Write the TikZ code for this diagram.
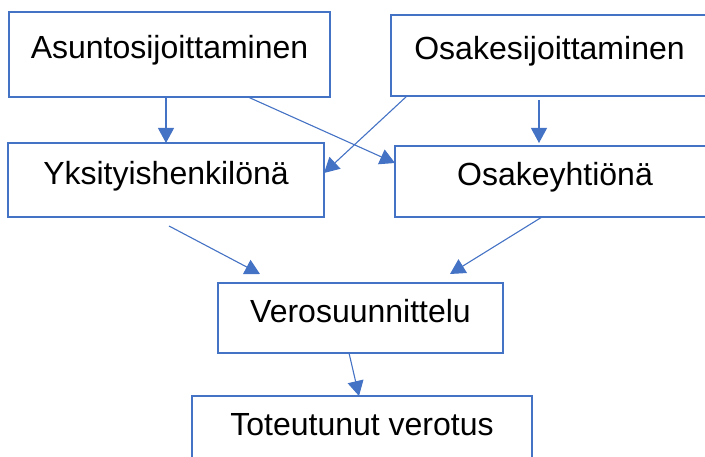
\documentclass[tikz,border=0pt]{standalone}
\usepackage{fontspec}
\setmainfont{Liberation Sans}
\usepackage{tikz}
\usetikzlibrary{arrows.meta, positioning, calc}
\definecolor{boxblue}{HTML}{4472C4}

\begin{document}
\begin{tikzpicture}[
    x=1pt, y=1pt,
    box/.style={draw=boxblue, line width=2.5pt, rectangle, inner sep=0pt, outer sep=0pt, align=center, text height=24pt, text depth=15pt, font=\fontsize{32}{38}\selectfont},
    arrow/.style={line width=1.1pt, color=boxblue, -{Triangle[length=15pt, width=16pt]}}
]
\useasboundingbox (0,0) rectangle (705,-457);
\clip (0,0) rectangle (705,-457);

% Middle
\node[box, minimum width=285pt, minimum height=70pt] (vero) at (360.5,-318) {Verosuunnittelu};
\node[box, below=43pt of vero, xshift=1.5pt, minimum width=340pt, minimum height=70pt] (toteutunut) {Toteutunut verotus};

% Ways of owning
\node[box, above=66pt of vero, xshift=-194.5pt, minimum width=316pt, minimum height=74pt] (yksi) {Yksityishenkilönä};
\node[box, above=66pt of vero, xshift=194.5pt, minimum width=320pt, minimum height=71pt] (osakeyhtio) {Osakeyhtiönä};

% Investing
\node[box, above=46pt of yksi, xshift=3.5pt, minimum width=321pt, minimum height=85pt] (asunto) {Asuntosijoittaminen};
\node[box, above=50pt of osakeyhtio, xshift=-5.5pt, minimum width=317pt, minimum height=81pt] (osake) {Osakesijoittaminen};

% Connections
\draw[arrow] (asunto.south -| yksi.north) -- (yksi.north);
\draw[arrow] ($(asunto.south)+(78.5,0)$) -- ($(osakeyhtio.west)+(0,18.5)$);
\draw[arrow] ($(osake.south)+(-142.5,0)$) -- ($(yksi.east)+(0,7)$);
\draw[arrow] ($(osake.south)+(-10.5,-4)$) -- ($(osake.south |- osakeyhtio.north)+(-10.5,3)$);
\draw[arrow] ($(yksi.south)+(3,-9)$) -- ($(vero.north)+(-100.5,9)$);
\draw[arrow] ($(osakeyhtio.south)+(-13,0)$) -- ($(vero.north)+(89.5,9)$);
\draw[arrow] ($(vero.south)+(-11.5,0)$) -- ($(toteutunut.north)+(-3,0)$);

\end{tikzpicture}
\end{document}
